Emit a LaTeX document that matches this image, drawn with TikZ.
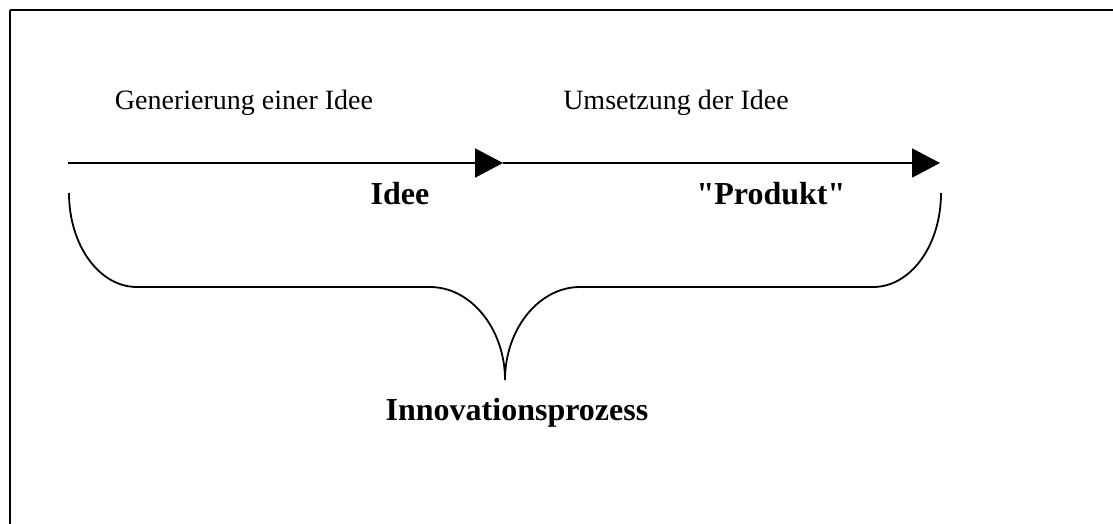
\documentclass[tikz,border=0pt]{standalone}
\usepackage{fontspec}
\setmainfont{Liberation Serif}[Ligatures=TeXOff]
\usepackage{tikz}
\usetikzlibrary{arrows.meta,positioning}
\tikzset{
  plabel/.style={anchor=base,inner sep=0pt,font=\fontsize{28}{34}\selectfont},
  blabel/.style={anchor=base,inner sep=0pt,font=\fontsize{32}{38}\selectfont\bfseries},
  parr/.style={-{Triangle[length=28pt,width=29pt]},line width=2pt,draw=black},
  pline/.style={line width=2pt,draw=black},
  pbrace/.style={line width=1.8pt,draw=black}
}
\begin{document}
\begin{tikzpicture}[x=1pt,y=-1pt]
  \useasboundingbox (0,0) rectangle (1113,524);
  % frame: top and left edge only
  \draw[pline] (10,10) -- (1113,10);
  \draw[pline] (10,10) -- (10,524);
  % timeline
  \coordinate (start) at (68,163);
  \coordinate (idea) at (503,163);
  \coordinate (prod) at (940,163);
  \draw[parr] (start) -- (idea);
  \draw[parr] (idea) -- (prod);
  \node[plabel] (gen) at (244,110) {Generierung einer Idee};
  \node[plabel] (ums) at (676,110) {Umsetzung der Idee};
  \node[blabel] (idee) at (400,204) {Idee};
  \node[blabel] (produkt) at (771,204) {"Produkt"};
  % brace under the timeline
  \coordinate (bl) at (69,193);
  \coordinate (br) at (941,193);
  \coordinate (tip) at (505,380);
  \draw[pbrace] (bl) .. controls (69,245) and (99,287) .. (137,287)
    -- (430,287) .. controls (471,287) and (505,329) .. (tip)
    .. controls (505,329) and (539,287) .. (580,287)
    -- (873,287) .. controls (911,287) and (941,245) .. (br);
  \node[blabel] (innov) at (517,420) {Innovationsprozess};
\end{tikzpicture}
\end{document}
